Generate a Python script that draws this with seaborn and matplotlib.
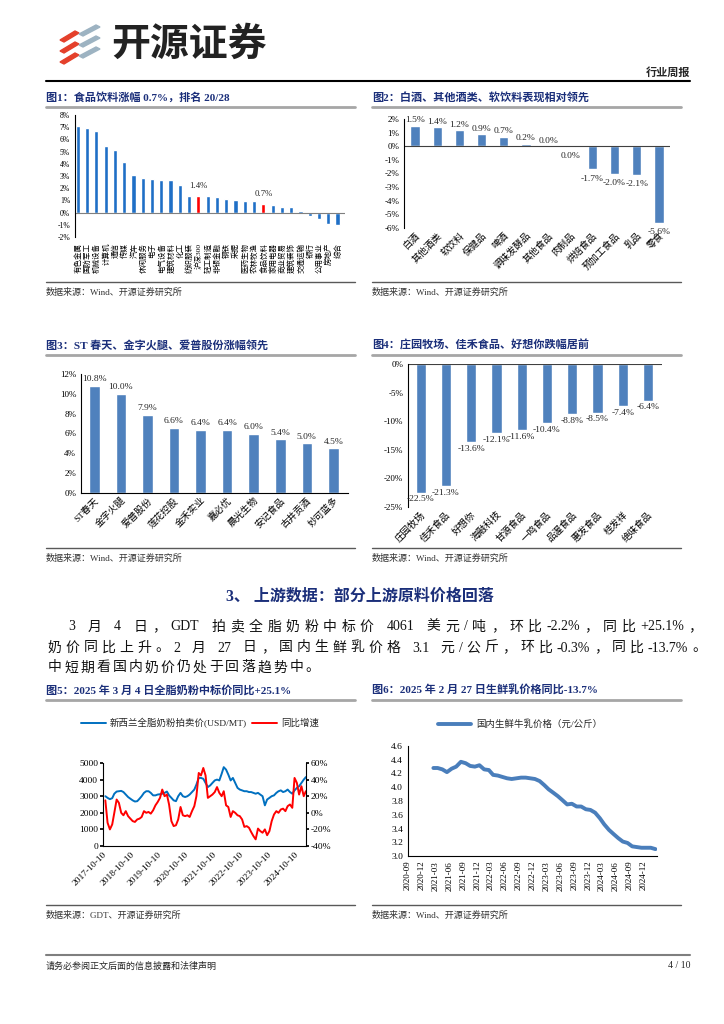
import re
import numpy as np
import pandas as pd
import matplotlib
matplotlib.use("Agg")
import matplotlib.pyplot as plt
from matplotlib.ticker import FuncFormatter
from matplotlib.patches import Polygon
import seaborn as sns

sns.set_theme(style="white")
plt.rcParams['font.family'] = ['Liberation Serif', 'Noto Sans CJK SC']
plt.rcParams['axes.unicode_minus'] = False

# ---- data ----
# fig1: industry weekly change (%)
ind_names = ["有色金属", "国防军工", "机械设备", "计算机", "通信", "传媒", "汽车", "休闲服务",
             "电子", "电气设备", "建筑材料", "化工", "纺织服装", "沪深300", "轻工制造",
             "非银金融", "钢铁", "采掘", "医药生物", "农林牧渔", "食品饮料", "家用电器",
             "商业贸易", "建筑装饰", "交通运输", "银行", "公用事业", "房地产", "综合"]
ind_chg = [7.08, 6.94, 6.72, 5.45, 5.15, 4.13, 3.06, 2.81, 2.73, 2.67, 2.64, 2.26, 1.40,
           1.40, 1.32, 1.24, 1.13, 1.05, 0.99, 0.94, 0.72, 0.61, 0.44, 0.44, 0.17,
           -0.25, -0.50, -0.94, -1.05]
ind_mark = ["沪深300", "食品饮料"]

# fig2: sub-sectors
sub_names = ["白酒", "其他酒类", "软饮料", "保健品", "啤酒", "调味发酵品", "其他食品",
             "肉制品", "烘焙食品", "预加工食品", "乳品", "零食"]
sub_chg = [1.5, 1.4, 1.2, 0.9, 0.7, 0.2, 0.0, -0.03, -1.7, -2.0, -2.1, -5.6]

# fig3 / fig4: top gainers and losers
up_names = ["ST春天", "金字火腿", "爱普股份", "莲花控股", "金禾实业", "嘉必优", "晨光生物",
            "安记食品", "古井贡酒", "妙可蓝多"]
up_chg = [10.8, 10.0, 7.9, 6.6, 6.4, 6.4, 6.0, 5.4, 5.0, 4.5]
down_names = ["庄园牧场", "佳禾食品", "好想你", "海融科技", "甘源食品", "一鸣食品", "品渥食品",
              "惠发食品", "桂发祥", "绝味食品"]
down_chg = [-22.5, -21.3, -13.6, -12.1, -11.6, -10.4, -8.8, -8.5, -7.4, -6.4]

# fig5: GDT whole milk powder (monthly, 2017-10 .. 2025-03)
gdt_dates = pd.date_range("2017-10-10", periods=90, freq="MS") + pd.Timedelta(days=9)
gdt_price = [3000, 2900, 2820, 2880, 3150, 3280, 3300, 3320, 3250, 3100, 2950, 2850,
             2750, 2680, 2700, 2850, 3000, 3200, 3300, 3300, 3200, 3050, 3050, 3100,
             3120, 3150, 3200, 3280, 3050, 2900, 2750, 2700, 3000, 3200, 3000, 2950,
             3000, 3100, 3250, 3400, 3700, 4100, 4100, 4050, 3800, 3550, 3650, 3800,
             3950, 4000, 3950, 4350, 4750, 4600, 4300, 3950, 4100, 3800, 3500, 3400,
             3350, 3300, 3300, 3250, 3250, 3200, 3150, 3200, 3100, 3000, 2450, 2800,
             2900, 3000, 3050, 3200, 3300, 3350, 3250, 3300, 3400, 3250, 3150, 3350,
             3500, 3600, 3800, 4000, 4150, 4061]
gdt_yoy = [15, -12, -20, -14, 0, 16, 12, 0, -3, 2, -4, -7,
           -10, -11, -8, -7, -5, 2, 0, 1, -1, 3, 9, 13,
           18, 28, 20, 22, 10, -10, -16, -15, -8, 7, -3, -4,
           -3, -5, 2, 8, 20, 48, 45, 54, 45, 18, 20, 22,
           25, 31, 24, 20, 26, 9, 7, -5, 2, 0, -3, -4,
           -8, -17, -16, -18, -23, -28, -32, -19, -22, -24, -20, -27,
           -22, -10, -2, 2, 0, 4, 5, 2, 8, 10, 6, 42,
           36, 22, 32, 20, 26, 25]

# fig6: domestic raw milk price (monthly, 2021-02 .. 2025-02)
milk_dates = pd.date_range("2021-02-01", periods=49, freq="MS") + pd.Timedelta(days=14)
milk_price = [4.28, 4.28, 4.26, 4.22, 4.27, 4.30, 4.37, 4.35, 4.31, 4.30, 4.32, 4.26,
              4.25, 4.18, 4.17, 4.15, 4.13, 4.12, 4.13, 4.14, 4.14, 4.13, 4.12, 4.09,
              4.03, 3.97, 3.92, 3.87, 3.81, 3.75, 3.76, 3.72, 3.72, 3.68, 3.67, 3.63,
              3.55, 3.46, 3.38, 3.32, 3.26, 3.21, 3.19, 3.14, 3.13, 3.12, 3.12, 3.12,
              3.10]

NAVY = "#1B2F7A"
BLUE1 = "#1F6FC6"
BAR = "#4F81BD"
pct = FuncFormatter(lambda v, _: f"{v:.0f}%")

fig = plt.figure(figsize=(7.24, 10.24), dpi=100)
page = fig.add_axes([0, 0, 1, 1])
page.set_xlim(0, 724)
page.set_ylim(1024, 0)
page.axis("off")


def box(left, top, right, bottom):
    return [left / 724, 1 - bottom / 1024, (right - left) / 724, (bottom - top) / 1024]


# rough advance widths (in em) of latin glyphs in Liberation Serif
EM_W = {".": 0.25, "%": 0.83, "-": 0.33, "+": 0.56, "/": 0.28, "G": 0.72, "D": 0.72, "T": 0.61}


def spread(x0, y, text, x1=None, gap=None, size=10):
    # justified line: CJK chars one by one, latin runs kept together
    em = size * 100 / 72
    toks = [t for t in re.findall(r"[\x21-\x7e]+| |.", text)]
    widths = []
    for t in toks:
        if t == " ":
            widths.append(0.25 * em)
        elif ord(t[0]) < 128:
            widths.append(sum(EM_W.get(c, 0.5) for c in t) * em)
        else:
            widths.append(em)
    if gap is None:
        gap = (x1 - x0 - sum(widths)) / (len(toks) - 1)
    pos = x0
    for t, w in zip(toks, widths):
        if t != " ":
            page.text(pos, y, t, ha="left", va="center", fontsize=size, color="#111111")
        pos += w + gap
    return gap


# ---- page decoration ----
for i in range(3):
    y0 = 31 + i * 11
    page.add_patch(Polygon([[60, y0 + 9], [75, y0], [79, y0 + 2], [64, y0 + 11]], color="#E4402B"))
    page.add_patch(Polygon([[79, y0 + 3], [96, y0 - 6], [100, y0 - 4], [83, y0 + 5]], color="#9DB3C2"))
page.text(111, 44, "开源证券", fontsize=28, fontweight="bold", va="center",
          family="Noto Sans CJK SC", color="#222222")
page.text(690, 73, "行业周报", fontsize=8, fontweight="bold", ha="right", va="center")
page.plot([46, 690], [81, 81], color="black", lw=1.5)

titles = [(46, 97, "图1：食品饮料涨幅 0.7%，排名 20/28"),
          (372, 97, "图2：白酒、其他酒类、软饮料表现相对领先"),
          (46, 345, "图3：ST 春天、金字火腿、爱普股份涨幅领先"),
          (372, 345, "图4：庄园牧场、佳禾食品、好想你跌幅居前"),
          (46, 690, "图5：2025 年 3 月 4 日全脂奶粉中标价同比+25.1%"),
          (372, 690, "图6：2025 年 2 月 27 日生鲜乳价格同比-13.7%")]
for x, y, t in titles:
    page.text(x, y, t, fontsize=8, fontweight="bold", color=NAVY, va="center")
    page.plot([x, x + 309], [y + 10, y + 10], color="#A6A6A6", lw=2)

sources = [(46, 282, "数据来源：Wind、开源证券研究所"), (372, 282, "数据来源：Wind、开源证券研究所"),
           (46, 548, "数据来源：Wind、开源证券研究所"), (372, 548, "数据来源：Wind、开源证券研究所"),
           (46, 905, "数据来源：GDT、开源证券研究所"), (372, 905, "数据来源：Wind、开源证券研究所")]
for x, y, t in sources:
    page.plot([x, x + 309], [y, y], color="#595959", lw=1)
    page.text(x, y + 10, t, fontsize=6.5, color="#333333", va="center")

page.text(360, 597, "3、 上游数据：部分上游原料价格回落", fontsize=11.5, fontweight="bold",
          color=NAVY, ha="center", va="center")
spread(68, 627, "3 月 4 日，GDT 拍卖全脂奶粉中标价 4061 美元/吨，环比-2.2%，同比+25.1%，", x1=702)
spread(48, 648, "奶价同比上升。2 月 27 日，国内生鲜乳价格 3.1 元/公斤，环比-0.3%，同比-13.7%。", x1=706)
spread(48, 668, "中短期看国内奶价仍处于回落趋势中。", gap=2.2)

page.plot([46, 690], [955, 955], color="#7F7F7F", lw=1.5)
page.text(46, 966, "请务必参阅正文后面的信息披露和法律声明", fontsize=6.5, va="center")
page.text(690, 966, "4 / 10", fontsize=7, va="center", ha="right")


def style(ax, size=6.5):
    ax.set_xlabel("")
    ax.set_ylabel("")
    ax.tick_params(axis="both", labelsize=size, length=2, pad=1.5, direction="out",
                   colors="black")
    for s in ["top", "right", "bottom"]:
        ax.spines[s].set_visible(False)
    ax.spines["left"].set_color("black")
    ax.spines["left"].set_linewidth(0.8)
    ax.grid(False)
    ax.set_facecolor("none")


def slant(ax):
    ax.tick_params(axis="x", length=0, pad=2, labelsize=6.8)
    for lab in ax.get_xticklabels():
        lab.set_rotation(45)
        lab.set_ha("right")
        lab.set_rotation_mode("anchor")


# ---- fig1 ----
ax1 = fig.add_axes(box(75, 115, 345, 237))
pal1 = {n: ("#FF0000" if n in ind_mark else BLUE1) for n in ind_names}
sns.barplot(x=ind_names, y=ind_chg, hue=ind_names, palette=pal1, legend=False,
            width=0.45, saturation=1, ax=ax1)
style(ax1, 5.5)
ax1.set_ylim(-2, 8)
ax1.set_yticks(range(-2, 9))
ax1.yaxis.set_major_formatter(pct)
ax1.set_xlim(-0.3, 28.8)
ax1.axhline(0, color="#7F7F7F", lw=0.8)
ax1.tick_params(axis="x", length=0, pad=4, labelsize=5.4)
for lab in ax1.get_xticklabels():
    lab.set_rotation(90)
    lab.set_va("top")
for n in ind_mark:
    i = ind_names.index(n)
    ax1.annotate(f"{ind_chg[i]:.1f}%", (i, ind_chg[i]), xytext=(0, 4),
                 textcoords="offset points", ha="center", va="bottom", fontsize=6.3)

# ---- fig2 ----
ax2 = fig.add_axes(box(404, 119, 670, 228))
sns.barplot(x=sub_names, y=sub_chg, color=BAR, width=0.42, saturation=1, ax=ax2)
style(ax2)
ax2.set_ylim(-6, 2)
ax2.set_yticks(range(-6, 3))
ax2.yaxis.set_major_formatter(pct)
ax2.set_xlim(-0.5, 11.5)
ax2.axhline(0, color="#404040", lw=0.8)
slant(ax2)
for i, v in enumerate(sub_chg):
    t = f"{v:.1f}%".replace("-0.0%", "0.0%")
    if v >= 0:
        ax2.annotate(t, (i, v), xytext=(0, 1), textcoords="offset points",
                     ha="center", va="bottom", fontsize=6.8)
    else:
        ax2.annotate(t, (i, v), xytext=(0, -4), textcoords="offset points",
                     ha="center", va="top", fontsize=6.8)

# ---- fig3 ----
ax3 = fig.add_axes(box(81, 374, 348, 493))
sns.barplot(x=up_names, y=up_chg, color=BAR, width=0.4, saturation=1, ax=ax3)
style(ax3)
ax3.spines["bottom"].set_visible(True)
ax3.spines["bottom"].set_color("black")
ax3.spines["bottom"].set_linewidth(0.8)
ax3.set_ylim(0, 12)
ax3.set_yticks(range(0, 13, 2))
ax3.yaxis.set_major_formatter(pct)
ax3.set_xlim(-0.5, 9.55)
slant(ax3)
for i, v in enumerate(up_chg):
    ax3.annotate(f"{v:.1f}%", (i, v), xytext=(0, 2), textcoords="offset points",
                 ha="center", va="bottom", fontsize=6.8)

# ---- fig4 ----
ax4 = fig.add_axes(box(408, 364, 662, 507))
sns.barplot(x=down_names, y=down_chg, color=BAR, width=0.4, saturation=1, ax=ax4)
style(ax4)
ax4.set_ylim(-25, 0)
ax4.set_yticks(range(-25, 1, 5))
ax4.yaxis.set_major_formatter(pct)
ax4.set_xlim(-0.5, 9.55)
ax4.axhline(0, color="#404040", lw=0.8)
slant(ax4)
for i, v in enumerate(down_chg):
    ax4.annotate(f"{v:.1f}%", (i, v), xytext=(0, -2), textcoords="offset points",
                 ha="center", va="top", fontsize=6.8)

# ---- fig5 ----
ax5 = fig.add_axes(box(103, 763, 306, 846))
sns.lineplot(x=gdt_dates, y=gdt_price, color="#0070C0", lw=1.4, ax=ax5)
ax5r = ax5.twinx()
sns.lineplot(x=gdt_dates, y=gdt_yoy, color="#FF0000", lw=1.4, ax=ax5r)
style(ax5, 6.8)
ax5.spines["bottom"].set_visible(True)
ax5.spines["bottom"].set_color("black")
ax5.spines["bottom"].set_linewidth(0.8)
ax5r.set_ylabel("")
ax5r.grid(False)
for s in ["top", "left", "bottom"]:
    ax5r.spines[s].set_visible(False)
ax5r.spines["right"].set_color("black")
ax5r.spines["right"].set_linewidth(0.8)
ax5r.tick_params(axis="y", labelsize=6.8, length=2, pad=1.5, colors="black")
ax5.set_ylim(0, 5000)
ax5.set_yticks(range(0, 5001, 1000))
ax5r.set_ylim(-40, 60)
ax5r.set_yticks(range(-40, 61, 20))
ax5r.yaxis.set_major_formatter(pct)
ax5.set_xlim(pd.Timestamp("2017-10-10"), pd.Timestamp("2025-03-12"))
xt5 = [pd.Timestamp(f"{y}-10-10") for y in range(2017, 2025)]
ax5.set_xticks(xt5)
ax5.set_xticklabels([d.strftime("%Y-%m-%d") for d in xt5], rotation=45, ha="right",
                    rotation_mode="anchor")
ax5.tick_params(axis="x", length=2)
h5 = [ax5.get_lines()[0], ax5r.get_lines()[0]]
fig.legend(h5, ["新西兰全脂奶粉拍卖价(USD/MT)", "同比增速"], loc="center",
           bbox_to_anchor=(200 / 724, 1 - 723 / 1024), ncol=2, frameon=False,
           fontsize=6.8, handlelength=2.6, columnspacing=0.6, handletextpad=0.4)

# ---- fig6 ----
ax6 = fig.add_axes(box(408, 746, 657, 856))
sns.lineplot(x=milk_dates, y=milk_price, color="#4A7EBB", lw=2.8, ax=ax6,
             label="国内生鲜牛乳价格（元/公斤）")
style(ax6, 6.8)
ax6.spines["bottom"].set_visible(True)
ax6.spines["bottom"].set_color("black")
ax6.spines["bottom"].set_linewidth(0.8)
ax6.set_ylim(3.0, 4.6)
ax6.set_yticks(np.arange(3.0, 4.61, 0.2))
ax6.yaxis.set_major_formatter(FuncFormatter(lambda v, _: f"{v:.1f}"))
ax6.set_xlim(pd.Timestamp("2020-09-01"), pd.Timestamp("2025-02-25"))
xt6 = pd.date_range("2020-09-01", "2024-12-01", freq="3MS")
ax6.set_xticks(xt6)
ax6.set_xticklabels([d.strftime("%Y-%m") for d in xt6], rotation=90)
ax6.tick_params(axis="x", length=2, labelsize=6.5)
ax6.legend(loc="center", bbox_to_anchor=(0.45, 1.2), frameon=False, fontsize=6.8,
           handlelength=3.5, handletextpad=0.5)

fig.savefig("out.png", dpi=100)
